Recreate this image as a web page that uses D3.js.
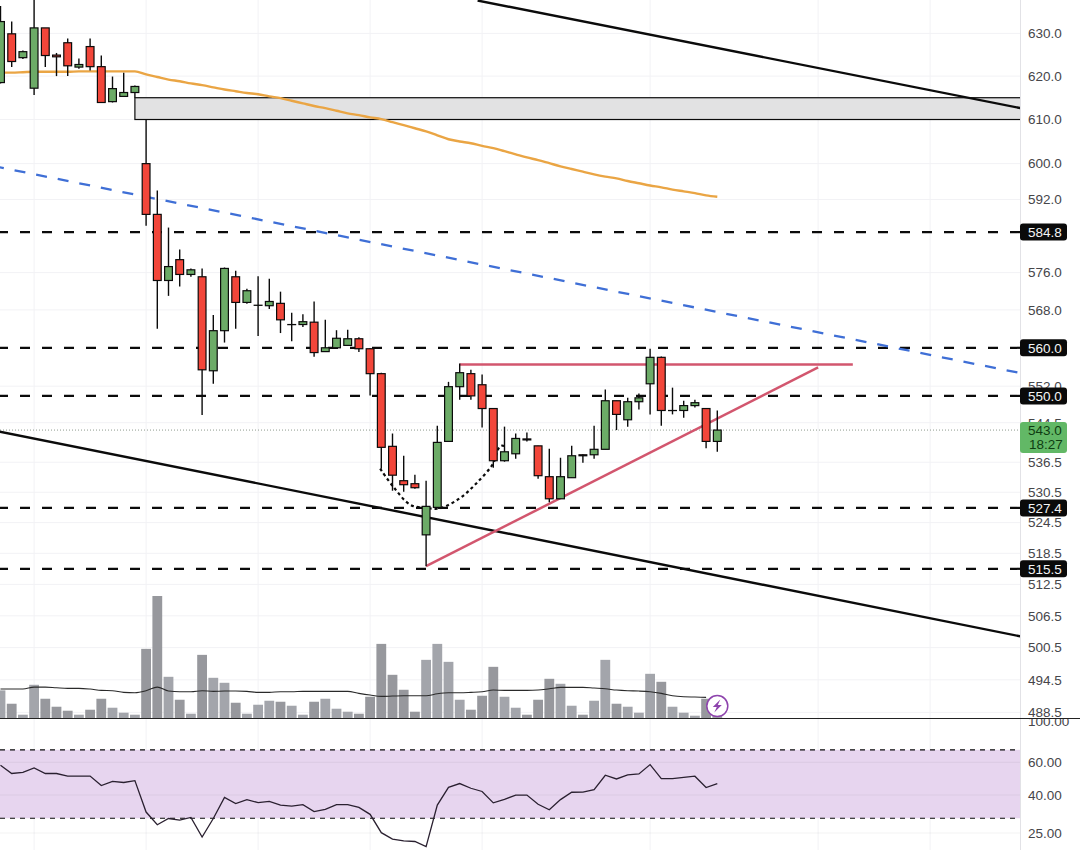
<!DOCTYPE html>
<html>
<head>
<meta charset="utf-8">
<script src="https://cdnjs.cloudflare.com/ajax/libs/d3/7.9.0/d3.min.js"></script>
<style>
  html, body { margin: 0; padding: 0; background: #fff; }
  svg { display: block; }
  text { font-family: "Liberation Sans", Arial, sans-serif; }
</style>
</head>
<body>
<svg id="chart" width="1080" height="850"></svg>
<script>
// Session candles, oldest first
const opens = [618.5,629.9,624.3,617.2,631.3,624.9,627.8,622.1,626.9,622.2,614.1,615.3,616.2,600.0,588.7,574.3,578.8,575.6,575.1,555.2,563.6,575.1,569.6,569.0,568.9,569.4,564.9,564.9,565.4,559.2,560.0,560.5,561.9,559.8,554.6,539.7,532.8,532.2,522.1,527.5,540.7,551.9,554.6,552.3,547.4,536.8,538.2,541.2,539.8,533.6,529.2,533.4,538.0,538.0,539.1,549.0,545.1,548.8,552.5,558.0,547.0,547.0,548.0,547.4,540.7];
const highs = [636.5,632.8,626.0,640.0,631.3,625.4,628.8,624.1,628.8,624.8,619.9,620.8,617.8,610.0,594.0,585.8,581.0,576.9,576.9,566.9,577.1,576.4,572.5,575.2,574.7,571.9,567.4,567.1,569.8,565.9,563.7,563.8,562.2,559.9,554.8,542.3,537.8,534.0,532.8,543.9,552.9,556.7,555.4,554.4,547.4,543.7,542.3,542.5,539.8,539.2,537.4,539.8,538.1,543.9,551.3,549.0,549.6,550.5,559.8,558.2,551.7,549.0,549.2,547.4,547.0];
const lows = [618.3,622.1,624.0,615.6,622.1,620.0,620.0,621.7,621.3,613.9,613.9,615.3,615.0,586.2,564.0,571.0,573.0,575.1,546.1,552.5,561.1,564.0,569.3,562.5,568.2,563.1,561.4,564.4,558.1,559.2,560.0,560.5,559.1,550.1,535.2,530.8,530.6,531.2,516.0,527.3,540.7,549.2,549.2,543.5,535.4,536.6,537.2,540.7,533.2,528.5,529.2,533.4,536.4,537.2,539.1,543.0,543.7,547.2,546.2,543.9,546.2,545.5,547.6,539.3,538.6];
const closes = [632.8,623.4,625.7,631.3,624.8,624.5,622.4,622.7,622.2,613.9,617.1,616.2,617.6,588.7,574.3,577.3,575.6,576.6,555.4,563.6,576.9,569.6,572.1,569.0,569.8,565.9,564.9,565.5,559.0,560.0,562.0,561.9,559.8,554.6,539.5,533.9,532.0,531.4,527.7,540.5,551.9,554.8,550.0,547.4,536.8,538.6,541.3,541.0,533.8,529.2,533.6,537.8,537.8,539.1,549.0,546.2,548.8,549.6,558.0,547.0,547.0,548.0,548.6,540.7,543.0];

// Traded volume per candle and its moving average
const volumes = [27.7,14.3,3.3,33.3,19.3,11.3,7.3,3.3,8.3,19.3,10.3,5.3,3.3,69.3,122.3,41.3,18.3,4.3,63.3,40.3,35.3,15.3,4.3,13.3,17.3,16.3,12.3,3.3,16.3,19.3,9.3,6.3,4.3,21.3,74.3,43.3,28.3,6.3,58.3,74.3,56.3,18.3,8.3,22.3,51.3,21.3,10.3,3.3,18.3,39.3,34.3,12.3,3.3,17.3,58.3,14.3,11.3,5.3,44.3,36.3,11.3,5.3,2.3,19.3,2.3];
const volumeAverage = [29,29,29,31,31,30.3,29.7,29.7,29,27.7,27.3,25.7,25.3,27.3,31,27,26.3,26.3,27.3,26.7,27,27,26.7,25.7,25.7,26.3,26.3,26.7,26.7,26.7,26.7,26.7,24.7,23,21.7,22,22.3,22.3,22.3,24.3,25.3,25.3,25.7,26.3,28,27.7,27.7,27.7,28,29.3,30.7,30.7,30.7,30,29.3,28,27.3,27,26.3,24.7,22.3,21.3,21,20.7];

// Long period price average
const priceAverage = [620.8,620.8,620.9,621.0,621.0,621.0,621.0,621.1,621.1,621.1,621.1,621.1,621.1,620.4,619.8,619.2,618.8,618.3,617.9,617.4,616.9,616.5,616.1,615.8,615.3,614.9,614.3,613.7,613.1,612.6,612.0,611.4,611.0,610.5,610.1,609.4,608.7,608.0,607.3,606.4,605.5,605.0,604.6,604.0,603.5,602.8,602.1,601.4,600.8,600.1,599.4,598.8,598.2,597.6,597.1,596.7,596.1,595.6,595.1,594.7,594.2,593.8,593.4,592.9,592.6];

// Relative strength index
const rsi = [57.8,52.2,53.0,55.9,52.2,52.2,50.6,50.6,50.6,45.0,47.4,46.7,47.8,32.4,27.7,29.9,29.3,30.3,23.8,29.9,38.8,36.0,37.8,36.4,37.0,35.3,34.9,35.5,32.6,33.5,35.5,35.5,34.3,31.5,25.1,23.2,22.7,22.5,21.1,35.3,44.0,46.1,43.5,41.8,36.3,37.9,40.0,40.0,35.7,33.3,37.8,41.4,41.5,42.8,51.1,48.8,51.3,51.9,58.3,49.0,49.0,49.8,50.5,43.9,46.1];

// Axis ticks and marked levels
const priceTicks = [630,620,610,600,592,576,568,552,544.5,536.5,530.5,524.5,518.5,512.5,506.5,500.5,494.5,488.5];
const keyLevels = [584.8,560.0,550.0,527.4,515.5];
const rsiTicks = [100,60,40,25];
const rsiBand = [30,70];
const gridCandles = [3,13,23,33,43,58,73,83];
const lastPrice = 543.0;
const countdown = "18:27";

// Hand drawn studies, as [candle index, price] anchors
const channelTop = [[42.6,637.8],[91.1,612.6]];
const channelBottom = [[-0.1,542.7],[91.1,502.6]];
const blueTrend = [[-0.1,599.2],[91.1,554.7]];
const necklineRed = [[41,556.5],[76.1,556.5]];
const risingRed = [[38,516.0],[73,555.9]];
const roundedBottom = [[33.9,535.2],[35.1,531.5],[36.6,528.0],[38,527.4],[39.2,527.3],[41,529.3],[42.5,532.3],[44,536.3],[44.4,539.0],[44.7,539.8],[45.1,539.7]];
const supplyZone = { from: 12, to: 91.1, top: 615.0, bottom: 610.0 };

const colors = { up: "#6cab67", down: "#f2463a", ink: "#0b0b0b", grid: "#f2f2f5", tick: "#46464a",
                 volUp: "#a3a5ab", volDown: "#97989d", orange: "#eaa544", blue: "#3f6fd6",
                 red: "#d2566e", band: "#e7d5ef", accent: "#8e44ad", last: "#62b866" };

const W = 1080, H = 850, plotRight = 1020, paneBottom = 718;
const svg = d3.select("#chart");

const x = d3.scaleLinear().domain([0, 64]).range([0.5, 717.3]);
const y = d3.scaleLog().domain([488.5, 630]).range([712.4, 33.4]);
const yVol = d3.scaleLinear().domain([0, 122.3]).range([paneBottom, 596]);
const yRsi = d3.scaleLog().domain([25, 100]).range([833, 721]);
const pt = d => [x(d[0]), y(d[1])];

const defs = svg.append("defs");
defs.append("clipPath").attr("id", "mainClip").append("rect").attr("x", 0).attr("y", 0).attr("width", plotRight).attr("height", paneBottom);
defs.append("clipPath").attr("id", "rsiClip").append("rect").attr("x", 0).attr("y", paneBottom).attr("width", plotRight).attr("height", H - paneBottom);
defs.append("clipPath").attr("id", "rsiAxisClip").append("rect").attr("x", plotRight).attr("y", paneBottom).attr("width", W - plotRight).attr("height", H - paneBottom);

const main = svg.append("g").attr("clip-path", "url(#mainClip)");
const lower = svg.append("g").attr("clip-path", "url(#rsiClip)");

// Grid
main.selectAll(".hgrid").data(priceTicks).join("line")
  .attr("x1", 0).attr("x2", plotRight).attr("y1", d => y(d)).attr("y2", d => y(d))
  .attr("stroke", colors.grid).attr("stroke-width", 1);
[main, lower].forEach(g => g.selectAll(".vgrid").data(gridCandles).join("line")
  .attr("x1", d => x(d)).attr("x2", d => x(d)).attr("y1", 0).attr("y2", H)
  .attr("stroke", colors.grid).attr("stroke-width", 1));

// Supply zone
main.append("rect")
  .attr("x", x(supplyZone.from)).attr("y", y(supplyZone.top))
  .attr("width", x(supplyZone.to) - x(supplyZone.from)).attr("height", y(supplyZone.bottom) - y(supplyZone.top))
  .attr("fill", "#e2e2e3").attr("stroke", colors.ink).attr("stroke-width", 1.2);

// Volume histogram and average
main.selectAll(".vol").data(volumes).join("rect")
  .attr("x", (d, i) => x(i) - 4.9).attr("width", 9.8)
  .attr("y", d => yVol(d)).attr("height", d => paneBottom - yVol(d))
  .attr("fill", (d, i) => closes[i] >= opens[i] ? colors.volUp : colors.volDown);
main.append("path").datum(volumeAverage)
  .attr("d", d3.line().x((d, i) => x(i)).y(d => yVol(d)).curve(d3.curveMonotoneX))
  .attr("fill", "none").attr("stroke", "#2a2a2a").attr("stroke-width", 1.1);

// Last price marker line
main.append("line").attr("x1", 0).attr("x2", plotRight).attr("y1", y(lastPrice)).attr("y2", y(lastPrice))
  .attr("stroke", "#8f9a8f").attr("stroke-width", 1).attr("stroke-dasharray", "1 2");

// Key horizontal levels
main.selectAll(".level").data(keyLevels).join("line")
  .attr("x1", -2).attr("x2", plotRight).attr("y1", d => y(d)).attr("y2", d => y(d))
  .attr("stroke", colors.ink).attr("stroke-width", 2.2).attr("stroke-dasharray", "10 12");

// Price average
main.append("path").datum(priceAverage)
  .attr("d", d3.line().x((d, i) => x(i)).y(d => y(d)).curve(d3.curveMonotoneX))
  .attr("fill", "none").attr("stroke", colors.orange).attr("stroke-width", 2.4);

// Trend lines
const straight = d3.line().x(d => pt(d)[0]).y(d => pt(d)[1]);
const drawLine = (data, color, width, dash, offset) => main.append("path").datum(data).attr("d", straight)
  .attr("fill", "none").attr("stroke", color).attr("stroke-width", width)
  .attr("stroke-dasharray", dash || null).attr("stroke-dashoffset", offset || 0);
drawLine(channelTop, colors.ink, 2.4);
drawLine(channelBottom, colors.ink, 2.4);
drawLine(blueTrend, colors.blue, 2.3, "11 11", 6.5);
drawLine(necklineRed, colors.red, 2.5);
drawLine(risingRed, colors.red, 2.5);

// Rounded bottom sketch
main.append("path").datum(roundedBottom)
  .attr("d", d3.line().x(d => pt(d)[0]).y(d => pt(d)[1]).curve(d3.curveCatmullRom))
  .attr("fill", "none").attr("stroke", colors.ink).attr("stroke-width", 2.2).attr("stroke-dasharray", "3 3");

// Candles
const candles = main.selectAll(".candle").data(opens).join("g");
candles.append("line")
  .attr("x1", (d, i) => x(i)).attr("x2", (d, i) => x(i))
  .attr("y1", (d, i) => y(highs[i])).attr("y2", (d, i) => y(lows[i]))
  .attr("stroke", colors.ink).attr("stroke-width", 1.4);
candles.append("rect")
  .attr("x", (d, i) => x(i) - 3.9).attr("width", 7.8)
  .attr("y", (d, i) => y(Math.max(opens[i], closes[i])))
  .attr("height", (d, i) => Math.max(0.1, Math.abs(y(opens[i]) - y(closes[i]))))
  .attr("fill", (d, i) => closes[i] >= opens[i] ? colors.up : colors.down)
  .attr("stroke", colors.ink).attr("stroke-width", 1.2);

// Alert badge at the last candle
const badge = main.append("g").attr("transform", `translate(${x(64)},${yVol(12)})`);
badge.append("circle").attr("r", 10.5).attr("fill", "#fff").attr("stroke", colors.accent).attr("stroke-width", 1.5);
badge.append("path").attr("d", "M3,-6.5 L-4.5,1 L-0.5,1 L-3,6.5 L4.5,-1 L0.5,-1 Z").attr("fill", colors.accent);

// RSI pane
lower.append("rect").attr("x", 0).attr("width", plotRight)
  .attr("y", yRsi(rsiBand[1])).attr("height", yRsi(rsiBand[0]) - yRsi(rsiBand[1])).attr("fill", colors.band);
lower.selectAll(".rgrid").data(rsiTicks.slice(1)).join("line")
  .attr("x1", 0).attr("x2", plotRight).attr("y1", d => yRsi(d)).attr("y2", d => yRsi(d))
  .attr("stroke", "#000").attr("stroke-opacity", 0.05);
lower.selectAll(".bandEdge").data(rsiBand).join("line")
  .attr("x1", 0).attr("x2", plotRight).attr("y1", d => yRsi(d)).attr("y2", d => yRsi(d))
  .attr("stroke", colors.ink).attr("stroke-width", 1.2).attr("stroke-dasharray", "5 5");
lower.append("path").datum(rsi)
  .attr("d", d3.line().x((d, i) => x(i)).y(d => yRsi(d)))
  .attr("fill", "none").attr("stroke", "#2a2030").attr("stroke-width", 1.3);

// Axes
const styleAxis = g => {
  g.select(".domain").remove();
  g.selectAll("line").remove();
  g.selectAll("text").attr("x", 8).attr("fill", colors.tick).attr("font-size", 13.5)
    .attr("font-family", '"Liberation Sans", Arial, sans-serif');
};
svg.append("g").attr("transform", `translate(${plotRight},0)`)
  .call(d3.axisRight(y).tickValues(priceTicks).tickFormat(d3.format(".1f"))).call(styleAxis);
svg.append("g").attr("clip-path", "url(#rsiAxisClip)")
  .append("g").attr("transform", `translate(${plotRight},0)`)
  .call(d3.axisRight(yRsi).tickValues(rsiTicks).tickFormat(d3.format(".2f"))).call(styleAxis);

svg.append("line").attr("x1", plotRight + 0.5).attr("x2", plotRight + 0.5).attr("y1", 0).attr("y2", H)
  .attr("stroke", "#e2e2e6");
svg.append("line").attr("x1", 0).attr("x2", W).attr("y1", paneBottom + 0.5).attr("y2", paneBottom + 0.5)
  .attr("stroke", "#222").attr("stroke-width", 1);

// Level tags on the axis
const tags = svg.selectAll(".tag").data(keyLevels).join("g").attr("transform", d => `translate(${plotRight},${y(d)})`);
tags.append("rect").attr("x", 0).attr("y", -8.5).attr("width", 47).attr("height", 17).attr("rx", 3).attr("fill", "#0a0a0a");
tags.append("text").attr("x", 8).attr("dy", "0.36em").attr("fill", "#f5f5f5").attr("font-size", 13.5)
  .text(d => d3.format(".1f")(d));

// Last price tag with countdown
const lastTag = svg.append("g").attr("transform", `translate(${plotRight},${y(lastPrice) - 8})`);
lastTag.append("rect").attr("width", 47).attr("height", 31).attr("rx", 3).attr("fill", colors.last);
lastTag.append("text").attr("x", 8).attr("y", 13).attr("fill", "#0f3d12").attr("font-size", 13.5).text(d3.format(".1f")(lastPrice));
lastTag.append("text").attr("x", 9).attr("y", 27).attr("fill", "#0f3d12").attr("font-size", 13.5).text(countdown);
</script>
</body>
</html>
